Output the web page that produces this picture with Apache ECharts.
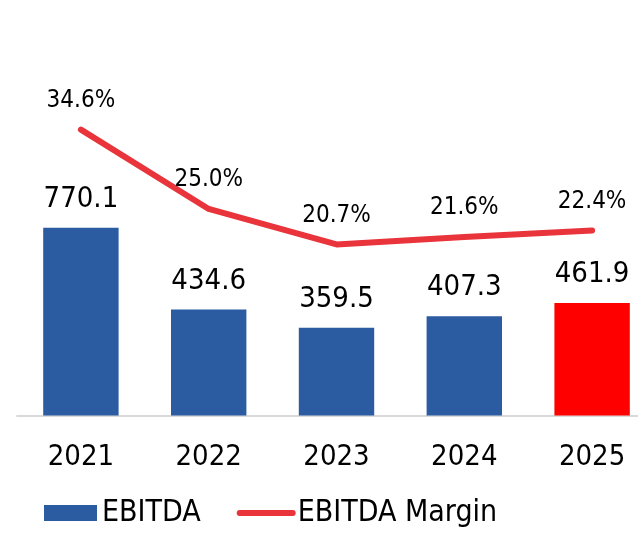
<!DOCTYPE html>
<html>
<head>
<meta charset="utf-8">
<script src="https://cdn.jsdelivr.net/npm/echarts@6/dist/echarts.min.js"></script>
<style>
  html, body { margin: 0; padding: 0; background: #fff; overflow: hidden; }
  #chart { width: 656px; height: 533px; }
</style>
</head>
<body>
<div id="chart"></div>
<script>
const years = ['2021', '2022', '2023', '2024', '2025']
const ebitda = [770.1, 434.6, 359.5, 407.3, 461.9]
const margin = [34.6, 25.0, 20.7, 21.6, 22.4]

const font = "'DejaVu Sans Condensed', 'DejaVu Sans', sans-serif"
const blue = '#2B5BA1'
const red = '#FF0000'
const lineRed = '#E9343B'

// chart is a bit wider than the window: the last bar sits at the right edge
const chart = echarts.init(document.getElementById('chart'))
chart.setOption({
  animation: false,
  textStyle: { fontFamily: font },
  grid: { left: 17, right: 0, top: 25.5, bottom: 117.5 },
  legend: {
    left: 44,
    top: 498,
    padding: 0,
    itemWidth: 53,
    itemHeight: 16,
    itemGap: 36,
    textStyle: { fontFamily: font, fontSize: 30, color: '#000' },
    data: [
      { name: 'EBITDA', icon: 'rect' },
      { name: 'EBITDA Margin', itemStyle: { opacity: 0 }, lineStyle: { width: 6, color: lineRed, cap: 'round' } }
    ]
  },
  xAxis: {
    type: 'category',
    data: years,
    axisTick: { show: false },
    axisLine: { lineStyle: { color: '#D9D9D9', width: 2 } },
    axisLabel: { color: '#000', fontSize: 29, fontFamily: font, margin: 27 }
  },
  yAxis: [
    { type: 'value', min: 0, max: 1600, show: false, splitLine: { show: false } },
    { type: 'value', min: 0, max: 47.2, show: false, splitLine: { show: false } }
  ],
  series: [
    {
      name: 'EBITDA',
      type: 'bar',
      barWidth: '59%',
      itemStyle: { color: blue },
      label: {
        show: true,
        position: 'top',
        distance: 14,
        color: '#000',
        fontSize: 29,
        fontFamily: font,
        formatter: p => p.value.toFixed(1)
      },
      data: ebitda.map((v, i) => i === ebitda.length - 1 ? { value: v, itemStyle: { color: red } } : v)
    },
    {
      name: 'EBITDA Margin',
      type: 'line',
      yAxisIndex: 1,
      symbol: 'circle',
      symbolSize: 0,
      itemStyle: { color: lineRed },
      lineStyle: { color: lineRed, width: 6, cap: 'round', join: 'round' },
      label: {
        show: true,
        position: 'top',
        distance: 17,
        color: '#000',
        fontSize: 24,
        fontFamily: font,
        formatter: p => p.value.toFixed(1) + '%'
      },
      data: margin
    }
  ]
})
</script>
</body>
</html>
